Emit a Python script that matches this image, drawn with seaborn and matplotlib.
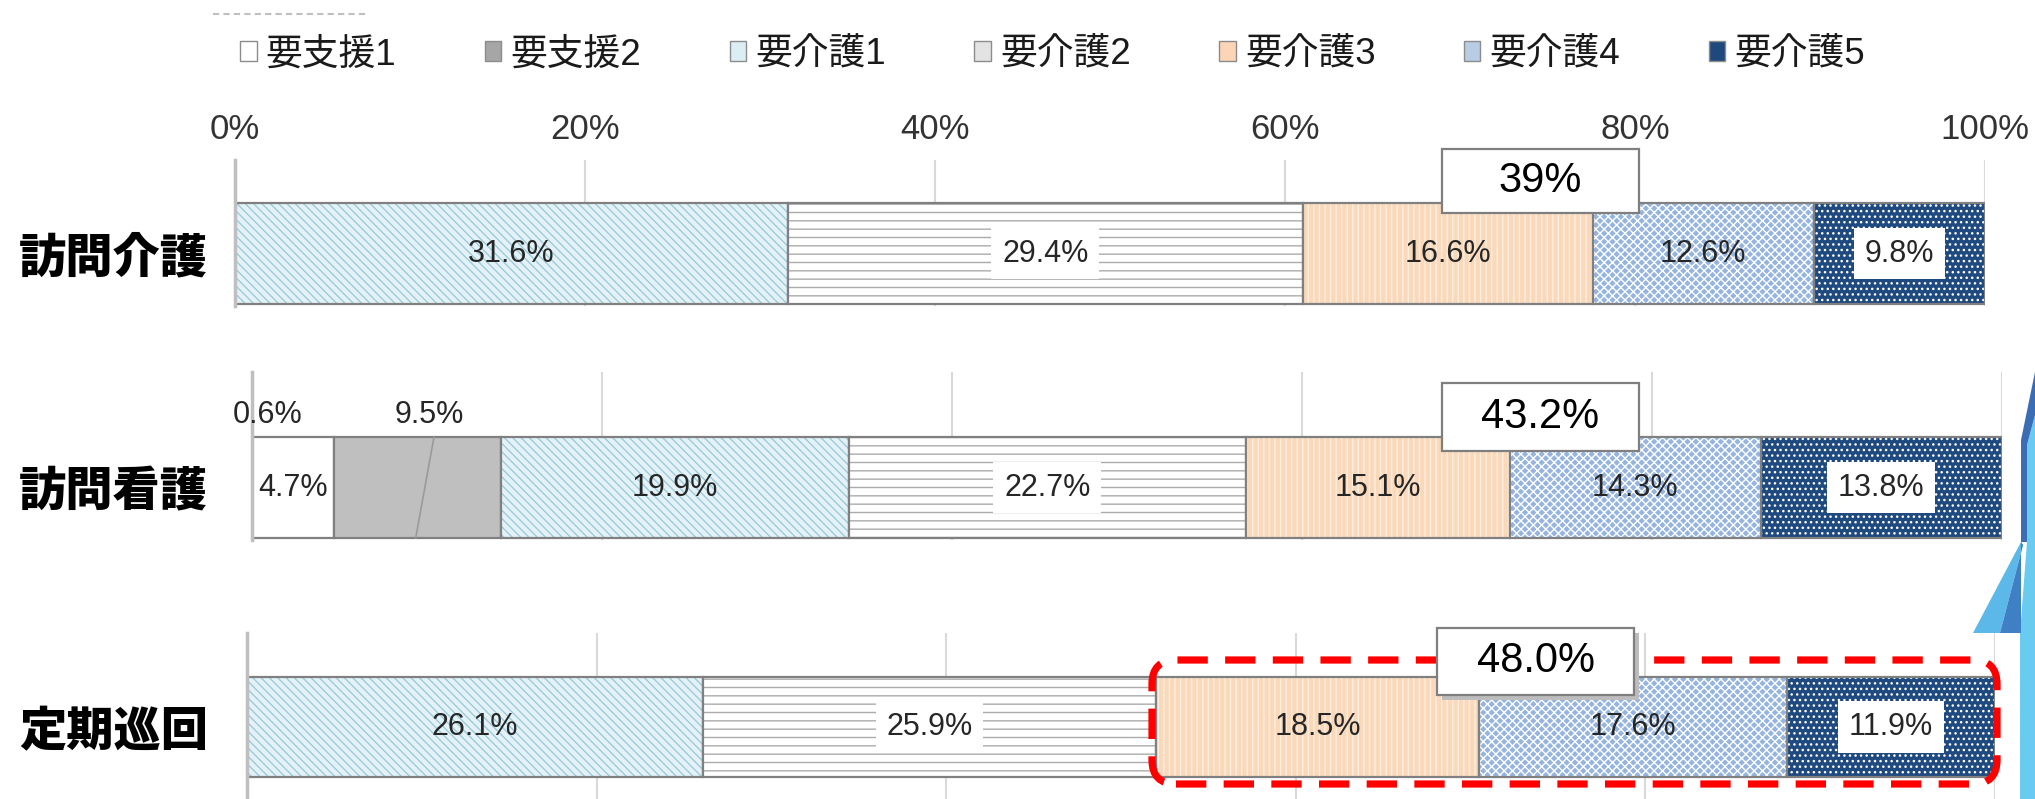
import matplotlib
matplotlib.use("Agg")
import matplotlib.pyplot as plt
import seaborn as sns
from matplotlib.patches import Rectangle, FancyBboxPatch, Polygon, Patch
from matplotlib.lines import Line2D

# ---------------- data ----------------
levels = ["要支援1", "要支援2", "要介護1", "要介護2", "要介護3", "要介護4", "要介護5"]
services = ["訪問介護", "訪問看護", "定期巡回"]
homecare = [0.0, 0.0, 31.6, 29.4, 16.6, 12.6, 9.8]
nursing = [4.7, 9.5, 19.9, 22.7, 15.1, 14.3, 13.8]
patrol = [0.0, 0.0, 26.1, 25.9, 18.5, 17.6, 11.9]
callouts = ["39%", "43.2%", "48.0%"]
nursing_small_label = "0.6%"
x_ticks = [0, 20, 40, 60, 80, 100]
x_tick_labels = ["0%", "20%", "40%", "60%", "80%", "100%"]

# ---------------- style ----------------
sns.set_style("white")
plt.rcParams["font.family"] = ["Liberation Sans", "Noto Sans CJK JP", "DejaVu Sans"]
plt.rcParams["hatch.linewidth"] = 1.0

W, H = 2035, 799
fig = plt.figure(figsize=(W / 100, H / 100), dpi=100)

styles = {
    "要支援1": dict(face="#FFFFFF", hatch=None, hc=None, box=False),
    "要支援2": dict(face="#BFBFBF", hatch=None, hc=None, box=False),
    "要介護1": dict(face="#E4F2F7", hatch="\\\\\\\\", hc="#9CCBDB", box=False),
    "要介護2": dict(face="#FFFFFF", hatch="--", hc="#ABABAB", box=True),
    "要介護3": dict(face="#FAD8BA", hatch="|||", hc="#FDEEDF", box=False),
    "要介護4": dict(face="#95B5E0", hatch="xxxx", hc="#FFFFFF", box=False),
    "要介護5": dict(face="#1F4A80", hatch="...", hc="#FFFFFF", box=True),
}
legend_colors = ["#FFFFFF", "#A6A6A6", "#DAEEF3", "#E3E3E3", "#FBD5B5", "#B8CCE4", "#1F497D"]
TEXT = "#262626"
OUTLINE = "#808080"


def px_axes(left, right, top, bottom):
    return fig.add_axes([left / W, 1 - bottom / H, (right - left) / W, (bottom - top) / H])


def draw_row(ax, name, values, skip_labels=()):
    left = 0.0
    for lvl, v in zip(levels, values):
        if v <= 0:
            continue
        st = styles[lvl]
        kw = dict(x=[v], y=[name], orient="h", left=left, width=0.8,
                  errorbar=None, ax=ax, color=st["face"], saturation=1)
        # face + hatch layer
        if st["hatch"]:
            sns.barplot(**kw, facecolor=st["face"], edgecolor=st["hc"],
                        linewidth=0, hatch=st["hatch"])
        else:
            sns.barplot(**kw, facecolor=st["face"], linewidth=0)
        # outline layer
        sns.barplot(**kw, facecolor="none", edgecolor=OUTLINE, linewidth=1.6)
        cont = ax.containers[-1]
        if lvl not in skip_labels:
            bbox = dict(boxstyle="square,pad=0.35", fc="white", ec="none") if st["box"] else None
            ax.bar_label(cont, labels=[f"{v:.1f}%"], label_type="center",
                         fontsize=22, color=TEXT, bbox=bbox)
        left += v


def finish_axes(ax, name, bar_top, bar_bot, ax_top, ax_bot, ypad_px, show_xlabels=False):
    scale = 0.8 / (bar_bot - bar_top)
    ax.set_ylim(0.4 + (ax_bot - bar_bot) * scale, -0.4 - (bar_top - ax_top) * scale)
    ax.set_xlim(0, 100)
    ax.set_xticks(x_ticks)
    if show_xlabels:
        ax.xaxis.tick_top()
        ax.set_xticklabels(x_tick_labels)
        ax.tick_params(axis="x", length=0, pad=10, labelsize=25, labelcolor="#333333",
                       labeltop=True, labelbottom=False)
    else:
        ax.tick_params(axis="x", length=0, labelbottom=False, labeltop=False)
    ax.set_yticks([0])
    ax.set_yticklabels([name], fontsize=34, fontweight="black",
                       family=["Noto Sans CJK JP"], color="black")
    ax.tick_params(axis="y", length=0, pad=ypad_px * 0.72)
    ax.grid(axis="x", color="#D9D9D9", lw=1.5)
    ax.grid(axis="y", visible=False)
    ax.set_axisbelow(True)
    for s in ["top", "right", "bottom"]:
        ax.spines[s].set_visible(False)
    ax.spines["left"].set_color("#BFBFBF")
    ax.spines["left"].set_linewidth(2.5)
    ax.set_xlabel("")
    ax.set_ylabel("")


# ---------------- three panels ----------------
ax1 = px_axes(235, 1985, 160, 306)
draw_row(ax1, services[0], homecare)
finish_axes(ax1, services[0], 203, 304, 160, 306, 27, show_xlabels=True)

ax2 = px_axes(252, 2002, 372, 540)
draw_row(ax2, services[1], nursing, skip_labels=("要支援2",))
finish_axes(ax2, services[1], 437, 538, 372, 540, 44)
sc2 = 0.8 / 101
y_above = -0.4 - (437 - 415) * sc2
ax2.text(0.9, y_above, nursing_small_label, ha="center", va="center", fontsize=22, color=TEXT)
ax2.text(nursing[0] + nursing[1] * 0.57, y_above, f"{nursing[1]:.1f}%",
         ha="center", va="center", fontsize=22, color=TEXT)
ax2.plot([nursing[0] + nursing[1] * 0.60, nursing[0] + nursing[1] * 0.49], [-0.4, 0.4],
         color="#9A9A9A", lw=1.2)

ax3 = px_axes(247, 1995, 633, 799)
draw_row(ax3, services[2], patrol)
finish_axes(ax3, services[2], 677, 777, 633, 799, 39)


# ---------------- legend ----------------
handles = [Patch(facecolor=c, edgecolor="#8C8C8C", linewidth=1.0) for c in legend_colors]
fig.legend(handles, levels, loc="center left", bbox_to_anchor=(240 / W, 1 - 55 / H),
           ncol=7, frameon=False, fontsize=26.5, handlelength=0.45, handleheight=0.45,
           handletextpad=0.25, columnspacing=2.4, borderpad=0, borderaxespad=0,
           labelcolor="#1A1A1A")

fig.add_artist(Line2D([213 / W, 367 / W], [1 - 14 / H, 1 - 14 / H], transform=fig.transFigure,
                      color="#BFBFBF", lw=1.5, linestyle=(0, (3, 2))))


# ---------------- callout boxes ----------------
def px_rect(x0, y0, x1, y1, **kw):
    return Rectangle((x0 / W, 1 - y1 / H), (x1 - x0) / W, (y1 - y0) / H,
                     transform=fig.transFigure, **kw)


boxes = [(1442, 149, 1639, 213), (1442, 383, 1639, 451), (1437, 628, 1634, 695)]

# red dashed highlight around 要介護3-5 of 定期巡回
rx0, ry0, rx1, ry1 = 1152, 660, 1997, 784
fig.add_artist(FancyBboxPatch((rx0 / W, 1 - ry1 / H), (rx1 - rx0) / W, (ry1 - ry0) / H,
                              boxstyle=f"round,pad=0,rounding_size={24 / W}",
                              mutation_aspect=W / H, transform=fig.transFigure,
                              fill=False, edgecolor="#FF0000", lw=5.2,
                              linestyle=(0, (4.2, 2.4))))

for i, (txt, (x0, y0, x1, y1)) in enumerate(zip(callouts, boxes)):
    if i == 2:
        fig.add_artist(px_rect(x0 + 5, y0 + 5, x1 + 5, y1 + 5, facecolor="#BDBDBD",
                               edgecolor="none"))
    fig.add_artist(px_rect(x0, y0, x1, y1, facecolor="white", edgecolor="#7F7F7F", lw=1.6))
    fig.text((x0 + x1) / 2 / W, 1 - (y0 + y1) / 2 / H, txt, ha="center", va="center",
             fontsize=30, color="black")


# ---------------- decorative slide shape on the right ----------------
def px_poly(pts, **kw):
    return Polygon([(x / W, 1 - y / H) for x, y in pts], closed=True,
                   transform=fig.transFigure, **kw)


fig.add_artist(px_poly([(2027, 445), (2035, 415), (2035, 799), (2020, 799), (2020, 633),
                        (2027, 542)], facecolor="#6ACBF0", edgecolor="none"))
fig.add_artist(px_poly([(2035, 372), (2021, 440), (2021, 542), (2027, 542), (2027, 445),
                        (2035, 415)], facecolor="#3B6DB5", edgecolor="none"))
fig.add_artist(px_poly([(2021, 542), (1973, 633), (2000, 633), (2023, 545)],
                       facecolor="#5CB8E8", edgecolor="none"))
fig.add_artist(px_poly([(2000, 633), (2021, 633), (2021, 542), (2023, 545)],
                       facecolor="#3F7FC4", edgecolor="none"))

fig.savefig("out.png", dpi=100)
